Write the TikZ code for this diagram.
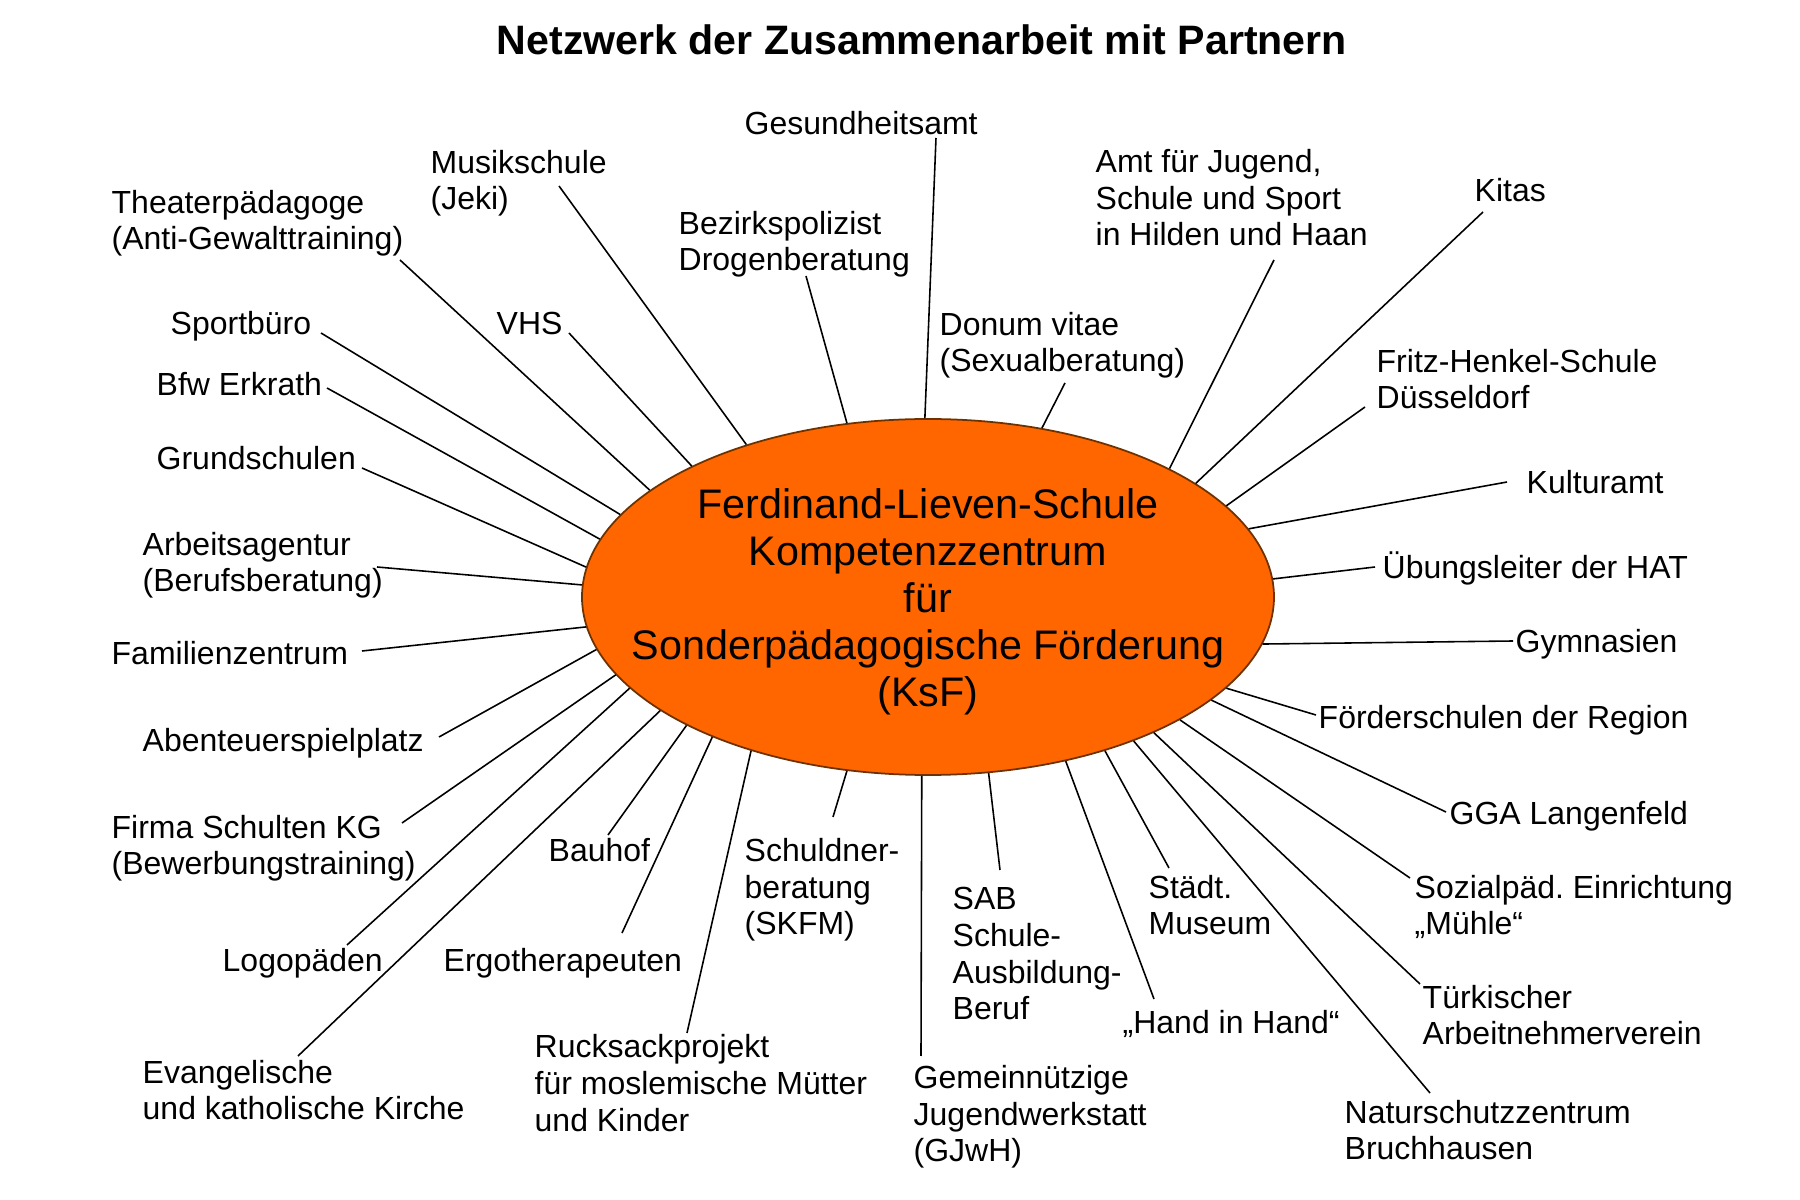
\documentclass[tikz,border=0pt]{standalone}
\usepackage{fontspec}
\setmainfont{Liberation Sans}
\usetikzlibrary{shapes.geometric}
\definecolor{ksforange}{RGB}{255,102,0}
\definecolor{ksfedge}{RGB}{110,50,0}

\begin{document}
\begin{tikzpicture}[
    partner/.style={anchor=base west, inner sep=0pt, align=left,
                    font=\fontsize{9.1}{10.45}\selectfont},
    hub/.style={ellipse, draw=ksfedge, fill=ksforange, line width=0.5pt,
                minimum width=6.92cm, minimum height=3.56cm, inner sep=0pt},
    hubtext/.style={align=center, font=\fontsize{11.75}{13.4}\selectfont},
    heading/.style={anchor=base, font=\bfseries\fontsize{11.7}{14}\selectfont},
    link/.style={line width=0.45pt},
]
\useasboundingbox (0,0) rectangle (18,12);

% title
\node[heading] (title) at (9.22,11.45) {Netzwerk der Zusammenarbeit mit Partnern};

% centre
\node[hub] (ksf) at (9.28,6.03) {};
\node[hubtext] (ksftext) at (9.28,5.98) {Ferdinand-Lieven-Schule\\Kompetenzzentrum\\für\\Sonderpädagogische Förderung\\(KsF)};

% partners (placed at the baseline of their last line)
% upper half
\node[partner] (theater) at (1.11,9.50) {Theaterpädagoge\\(Anti-Gewalttraining)};
\coordinate (theater-pt) at (4.00,9.40);
\node[partner] (musik) at (4.30,9.90) {Musikschule\\(Jeki)};
\coordinate (musik-pt) at (5.59,10.14);
\node[partner] (gesund) at (7.44,10.65) {Gesundheitsamt};
\coordinate (gesund-pt) at (9.36,10.62);
\node[partner] (bezirk) at (6.78,9.29) {Bezirkspolizist\\Drogenberatung};
\coordinate (bezirk-pt) at (8.06,9.24);
\node[partner] (amt) at (10.95,9.54) {Amt für Jugend,\\Schule und Sport\\in Hilden und Haan};
\coordinate (amt-pt) at (12.74,9.40);
\node[partner] (kitas) at (14.74,9.98) {Kitas};
\coordinate (kitas-pt) at (14.83,9.88);
\node[partner] (donum) at (9.39,8.28) {Donum vitae\\(Sexualberatung)};
\coordinate (donum-pt) at (10.65,8.17);
\node[partner] (vhs) at (4.96,8.65) {VHS};
\coordinate (vhs-pt) at (5.69,8.67);

% right side
\node[partner] (fritz) at (13.76,7.91) {Fritz-Henkel-Schule\\Düsseldorf};
\coordinate (fritz-pt) at (13.65,7.93);
\node[partner] (kultur) at (15.26,7.06) {Kulturamt};
\coordinate (kultur-pt) at (15.07,7.18);
\node[partner] (uebung) at (13.82,6.21) {Übungsleiter der HAT};
\coordinate (uebung-pt) at (13.75,6.33);
\node[partner] (gymn) at (15.15,5.47) {Gymnasien};
\coordinate (gymn-pt) at (15.13,5.59);
\node[partner] (foerder) at (13.18,4.71) {Förderschulen der Region};
\coordinate (foerder-pt) at (13.16,4.85);
\node[partner] (gga) at (14.49,3.75) {GGA Langenfeld};
\coordinate (gga-pt) at (14.46,3.88);
\node[partner] (sozial) at (14.14,2.65) {Sozialpäd.\ Einrichtung\\„Mühle“};
\coordinate (sozial-pt) at (14.10,3.22);
\node[partner] (tuerk) at (14.22,1.55) {Türkischer\\Arbeitnehmerverein};
\coordinate (tuerk-pt) at (14.20,2.16);
\node[partner] (natur) at (13.44,0.40) {Naturschutzzentrum\\Bruchhausen};
\coordinate (natur-pt) at (14.30,1.07);

% lower half
\node[partner] (hand) at (11.22,1.66) {„Hand in Hand“};
\coordinate (hand-pt) at (11.54,2.01);
\node[partner] (museum) at (11.48,2.65) {Städt.\\Museum};
\coordinate (museum-pt) at (11.69,3.32);
\node[partner] (sab) at (9.52,1.80) {SAB\\Schule-\\Ausbildung-\\Beruf};
\coordinate (sab-pt) at (10.00,3.30);
\node[partner] (gjwh) at (9.13,0.38) {Gemeinnützige\\Jugendwerkstatt\\(GJwH)};
\coordinate (gjwh-pt) at (9.21,1.44);
\node[partner] (schuldner) at (7.44,2.65) {Schuldner-\\beratung\\(SKFM)};
\coordinate (schuldner-pt) at (8.33,3.83);
\node[partner] (rucksack) at (5.34,0.69) {Rucksackprojekt\\für moslemische Mütter\\und Kinder};
\coordinate (rucksack-pt) at (6.87,1.67);
\node[partner] (bauhof) at (5.48,3.38) {Bauhof};
\coordinate (bauhof-pt) at (6.08,3.65);
\node[partner] (ergo) at (4.43,2.28) {Ergotherapeuten};
\coordinate (ergo-pt) at (6.22,2.67);
\node[partner] (logo) at (2.22,2.28) {Logopäden};
\coordinate (logo-pt) at (3.47,2.55);
\node[partner] (kirche) at (1.42,0.80) {Evangelische\\und katholische Kirche};
\coordinate (kirche-pt) at (2.98,1.44);

% left side
\node[partner] (firma) at (1.11,3.25) {Firma Schulten KG\\(Bewerbungstraining)};
\coordinate (firma-pt) at (4.02,3.77);
\node[partner] (abenteuer) at (1.42,4.48) {Abenteuerspielplatz};
\coordinate (abenteuer-pt) at (4.39,4.63);
\node[partner] (familie) at (1.11,5.35) {Familienzentrum};
\coordinate (familie-pt) at (3.62,5.49);
\node[partner] (arbeit) at (1.42,6.08) {Arbeitsagentur\\(Berufsberatung)};
\coordinate (arbeit-pt) at (3.77,6.33);
\node[partner] (grund) at (1.56,7.30) {Grundschulen};
\coordinate (grund-pt) at (3.62,7.32);
\node[partner] (bfw) at (1.56,8.04) {Bfw Erkrath};
\coordinate (bfw-pt) at (3.27,8.12);
\node[partner] (sport) at (1.70,8.65) {Sportbüro};
\coordinate (sport-pt) at (3.21,8.67);

% spokes
\draw[link] (theater-pt) -- (ksf.159.3);
\draw[link] (musik-pt) -- (ksf.140.9);
\draw[link] (gesund-pt) -- (ksf.91.6);
\draw[link] (bezirk-pt) -- (ksf.115.4);
\draw[link] (amt-pt) -- (ksf.28.1);
\draw[link] (kitas-pt) -- (ksf.23.7);
\draw[link] (donum-pt) -- (ksf.56.5);
\draw[link] (vhs-pt) -- (ksf.151.8);
\draw[link] (fritz-pt) -- (ksf.17.6);
\draw[link] (kultur-pt) -- (ksf.12.1);
\draw[link] (uebung-pt) -- (ksf.3.1);
\draw[link] (gymn-pt) -- (ksf.-8.0);
\draw[link] (foerder-pt) -- (ksf.-17.5);
\draw[link] (gga-pt) -- (ksf.-20.5);
\draw[link] (sozial-pt) -- (ksf.-26.1);
\draw[link] (tuerk-pt) -- (ksf.-31.7);
\draw[link] (natur-pt) -- (ksf.-35.6);
\draw[link] (hand-pt) -- (ksf.-50.0);
\draw[link] (museum-pt) -- (ksf.-41.4);
\draw[link] (sab-pt) -- (ksf.-71.5);
\draw[link] (gjwh-pt) -- (ksf.-92.3);
\draw[link] (schuldner-pt) -- (ksf.-115.5);
\draw[link] (rucksack-pt) -- (ksf.221.4);
\draw[link] (bauhof-pt) -- (ksf.208.3);
\draw[link] (ergo-pt) -- (ksf.213.3);
\draw[link] (logo-pt) -- (ksf.197.7);
\draw[link] (kirche-pt) -- (ksf.203.4);
\draw[link] (firma-pt) -- (ksf.194.6);
\draw[link] (abenteuer-pt) -- (ksf.189.6);
\draw[link] (familie-pt) -- (ksf.185.1);
\draw[link] (arbeit-pt) -- (ksf.178.8);
\draw[link] (grund-pt) -- (ksf.175.0);
\draw[link] (bfw-pt) -- (ksf.170.6);
\draw[link] (sport-pt) -- (ksf.165.2);
\end{tikzpicture}
\end{document}
